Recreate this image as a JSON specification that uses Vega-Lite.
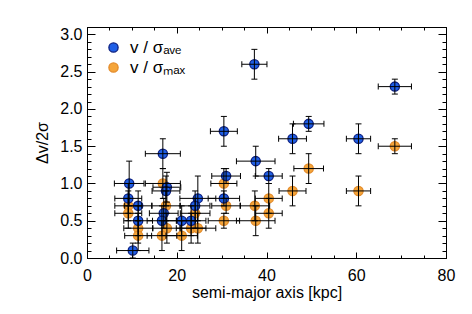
{
  "$schema": "https://vega.github.io/schema/vega-lite/v6.json",
  "width": 359,
  "height": 231,
  "autosize": {"type": "none"},
  "padding": {"left": 87, "top": 27, "right": 26, "bottom": 56},
  "background": "white",
  "config": {
    "view": {"stroke": "black", "strokeWidth": 1},
    "axis": {
      "domain": false, "grid": false, "tickColor": "black", "tickWidth": 1,
      "labelColor": "black", "titleColor": "black",
      "labelFont": "Liberation Sans", "titleFont": "Liberation Sans",
      "labelFontSize": 16, "titleFontSize": 16, "titleFontWeight": "normal",
      "labelFlush": false, "labelOverlap": false
    },
    "legend": {"labelFont": "Liberation Sans"}
  },
  "datasets": {
    "pts": [
      {"s": "max", "x": 68.6, "y": 1.5, "xerr": 3.7, "yerr": 0.1},
      {"s": "max", "x": 49.4, "y": 1.2, "xerr": 3.3, "yerr": 0.2},
      {"s": "max", "x": 45.8, "y": 0.9, "xerr": 3.0, "yerr": 0.2},
      {"s": "max", "x": 60.5, "y": 0.9, "xerr": 2.7, "yerr": 0.2},
      {"s": "max", "x": 30.5, "y": 1.0, "xerr": 2.9, "yerr": 0.2},
      {"s": "max", "x": 16.9, "y": 1.0, "xerr": 3.9, "yerr": 0.2},
      {"s": "max", "x": 40.5, "y": 0.8, "xerr": 3.0, "yerr": 0.2},
      {"s": "max", "x": 9.2, "y": 0.7, "xerr": 3.0, "yerr": 0.2},
      {"s": "max", "x": 17.6, "y": 0.7, "xerr": 3.1, "yerr": 0.2},
      {"s": "max", "x": 31.0, "y": 0.7, "xerr": 3.2, "yerr": 0.1},
      {"s": "max", "x": 37.4, "y": 0.7, "xerr": 3.3, "yerr": 0.2},
      {"s": "max", "x": 9.2, "y": 0.6, "xerr": 3.0, "yerr": 0.2},
      {"s": "max", "x": 24.1, "y": 0.6, "xerr": 3.3, "yerr": 0.2},
      {"s": "max", "x": 40.5, "y": 0.6, "xerr": 3.0, "yerr": 0.2},
      {"s": "max", "x": 30.5, "y": 0.5, "xerr": 3.5, "yerr": 0.1},
      {"s": "max", "x": 37.6, "y": 0.5, "xerr": 4.3, "yerr": 0.2},
      {"s": "max", "x": 11.4, "y": 0.4, "xerr": 3.2, "yerr": 0.2},
      {"s": "max", "x": 17.8, "y": 0.4, "xerr": 3.1, "yerr": 0.2},
      {"s": "max", "x": 23.2, "y": 0.4, "xerr": 3.3, "yerr": 0.2},
      {"s": "max", "x": 24.7, "y": 0.4, "xerr": 4.0, "yerr": 0.2},
      {"s": "max", "x": 11.4, "y": 0.3, "xerr": 3.0, "yerr": 0.2},
      {"s": "max", "x": 16.7, "y": 0.3, "xerr": 3.3, "yerr": 0.2},
      {"s": "max", "x": 21.1, "y": 0.3, "xerr": 3.5, "yerr": 0.2},
      {"s": "ave", "x": 37.3, "y": 2.6, "xerr": 2.8, "yerr": 0.2},
      {"s": "ave", "x": 30.5, "y": 1.7, "xerr": 3.0, "yerr": 0.2},
      {"s": "ave", "x": 68.6, "y": 2.3, "xerr": 3.7, "yerr": 0.1},
      {"s": "ave", "x": 49.4, "y": 1.8, "xerr": 3.4, "yerr": 0.1},
      {"s": "ave", "x": 45.8, "y": 1.6, "xerr": 3.1, "yerr": 0.2},
      {"s": "ave", "x": 60.5, "y": 1.6, "xerr": 2.7, "yerr": 0.2},
      {"s": "ave", "x": 16.9, "y": 1.4, "xerr": 3.9, "yerr": 0.2},
      {"s": "ave", "x": 37.6, "y": 1.3, "xerr": 4.3, "yerr": 0.2},
      {"s": "ave", "x": 31.0, "y": 1.1, "xerr": 3.2, "yerr": 0.1},
      {"s": "ave", "x": 40.5, "y": 1.1, "xerr": 3.0, "yerr": 0.1},
      {"s": "ave", "x": 9.4, "y": 1.0, "xerr": 3.3, "yerr": 0.3},
      {"s": "ave", "x": 17.8, "y": 0.95, "xerr": 3.1, "yerr": 0.2},
      {"s": "ave", "x": 17.6, "y": 0.9, "xerr": 3.1, "yerr": 0.2},
      {"s": "ave", "x": 9.2, "y": 0.8, "xerr": 3.0, "yerr": 0.2},
      {"s": "ave", "x": 24.7, "y": 0.8, "xerr": 4.0, "yerr": 0.3},
      {"s": "ave", "x": 30.5, "y": 0.8, "xerr": 3.5, "yerr": 0.1},
      {"s": "ave", "x": 11.4, "y": 0.7, "xerr": 3.0, "yerr": 0.2},
      {"s": "ave", "x": 24.1, "y": 0.7, "xerr": 3.3, "yerr": 0.2},
      {"s": "ave", "x": 17.1, "y": 0.6, "xerr": 3.2, "yerr": 0.2},
      {"s": "ave", "x": 11.4, "y": 0.5, "xerr": 3.2, "yerr": 0.2},
      {"s": "ave", "x": 16.7, "y": 0.5, "xerr": 3.3, "yerr": 0.2},
      {"s": "ave", "x": 21.1, "y": 0.5, "xerr": 3.5, "yerr": 0.2},
      {"s": "ave", "x": 23.2, "y": 0.5, "xerr": 3.3, "yerr": 0.2},
      {"s": "ave", "x": 10.2, "y": 0.1, "xerr": 3.6, "yerr": 0.1}
    ]
  },
  "data": {"name": "pts"},
  "resolve": {"axis": {"x": "independent", "y": "independent"}},
  "layer": [
    {
      "transform": [{"filter": "datum.s === 'max'"}],
      "mark": {"type": "point", "shape": "circle", "filled": true, "size": 85, "strokeWidth": 1.3, "opacity": 1},
      "encoding": {
        "x": {"field": "x", "type": "quantitative", "scale": {"domain": [0, 80], "nice": false, "zero": false},
          "axis": {"orient": "bottom", "values": [0, 20, 40, 60, 80], "tickSize": -6, "labelPadding": 15, "title": "semi-major axis [kpc]", "titlePadding": 1}},
        "y": {"field": "y", "type": "quantitative", "scale": {"domain": [0, 3.1], "nice": false, "zero": false},
          "axis": {"orient": "left", "values": [0, 0.5, 1, 1.5, 2, 2.5, 3], "labelExpr": "format(datum.value, '.1f')", "tickSize": -8, "labelPadding": 13, "title": "Δv/2σ", "titlePadding": 9}},
        "fill": {"field": "s", "type": "nominal", "scale": {"domain": ["ave", "max"], "range": ["#1f5fe6", "#f5a53a"]},
          "legend": {"orient": "none", "legendX": 18, "legendY": 12, "title": null, "padding": 0, "labelFontSize": 17, "labelFont": "Liberation Sans", "symbolSize": 85, "symbolStrokeWidth": 1.3, "symbolOpacity": 1, "labelOffset": 8, "rowPadding": 2, "labelColor": "black",
            "labelExpr": "datum.value === 'ave' ? 'v / σₐᵥₑ' : 'v / σₘₐₓ'"}},
        "stroke": {"field": "s", "type": "nominal", "scale": {"domain": ["ave", "max"], "range": ["#0b1f80", "#e38a28"]},
          "legend": {"orient": "none", "legendX": 18, "legendY": 12, "title": null, "padding": 0, "labelFontSize": 17, "labelFont": "Liberation Sans", "symbolSize": 85, "symbolStrokeWidth": 1.3, "symbolOpacity": 1, "labelOffset": 8, "rowPadding": 2, "labelColor": "black",
            "labelExpr": "datum.value === 'ave' ? 'v / σₐᵥₑ' : 'v / σₘₐₓ'"}}
      }
    },
    {
      "transform": [{"filter": "datum.s === 'ave'"}],
      "mark": {"type": "point", "shape": "circle", "filled": true, "size": 85, "strokeWidth": 1.3, "opacity": 1},
      "encoding": {
        "x": {"field": "x", "type": "quantitative", "scale": {"domain": [0, 80], "nice": false, "zero": false},
          "axis": {"orient": "bottom", "values": [0, 5, 10, 15, 20, 25, 30, 35, 40, 45, 50, 55, 60, 65, 70, 75, 80], "tickSize": -3, "labels": false, "title": null}},
        "y": {"field": "y", "type": "quantitative", "scale": {"domain": [0, 3.1], "nice": false, "zero": false},
          "axis": {"orient": "left", "values": [0, 0.1, 0.2, 0.3, 0.4, 0.5, 0.6, 0.7, 0.8, 0.9, 1, 1.1, 1.2, 1.3, 1.4, 1.5, 1.6, 1.7, 1.8, 1.9, 2, 2.1, 2.2, 2.3, 2.4, 2.5, 2.6, 2.7, 2.8, 2.9, 3, 3.1], "tickSize": -4, "labels": false, "title": null}},
        "fill": {"field": "s", "type": "nominal", "scale": {"domain": ["ave", "max"], "range": ["#1f5fe6", "#f5a53a"]}},
        "stroke": {"field": "s", "type": "nominal", "scale": {"domain": ["ave", "max"], "range": ["#0b1f80", "#e38a28"]}}
      }
    },
    {
      "mark": {"type": "errorbar", "ticks": {"size": 6, "opacity": 1, "color": "#000000"}, "rule": {"opacity": 1, "color": "#000000"}, "color": "#000000", "opacity": 1, "thickness": 1},
      "encoding": {
        "x": {"field": "x", "type": "quantitative", "scale": {"domain": [0, 80], "nice": false, "zero": false},
          "axis": {"orient": "top", "values": [0, 20, 40, 60, 80], "tickSize": -6, "labels": false, "title": null}},
        "xError": {"field": "xerr"},
        "y": {"field": "y", "type": "quantitative", "scale": {"domain": [0, 3.1], "nice": false, "zero": false},
          "axis": {"orient": "right", "values": [0, 0.5, 1, 1.5, 2, 2.5, 3], "tickSize": -8, "labels": false, "title": null}}
      }
    },
    {
      "mark": {"type": "errorbar", "ticks": {"size": 6, "opacity": 1, "color": "#000000"}, "rule": {"opacity": 1, "color": "#000000"}, "color": "#000000", "opacity": 1, "thickness": 1},
      "encoding": {
        "x": {"field": "x", "type": "quantitative", "scale": {"domain": [0, 80], "nice": false, "zero": false},
          "axis": {"orient": "top", "values": [0, 5, 10, 15, 20, 25, 30, 35, 40, 45, 50, 55, 60, 65, 70, 75, 80], "tickSize": -3, "labels": false, "title": null}},
        "y": {"field": "y", "type": "quantitative", "scale": {"domain": [0, 3.1], "nice": false, "zero": false},
          "axis": {"orient": "right", "values": [0, 0.1, 0.2, 0.3, 0.4, 0.5, 0.6, 0.7, 0.8, 0.9, 1, 1.1, 1.2, 1.3, 1.4, 1.5, 1.6, 1.7, 1.8, 1.9, 2, 2.1, 2.2, 2.3, 2.4, 2.5, 2.6, 2.7, 2.8, 2.9, 3, 3.1], "tickSize": -4, "labels": false, "title": null}},
        "yError": {"field": "yerr"}
      }
    }
  ]
}
